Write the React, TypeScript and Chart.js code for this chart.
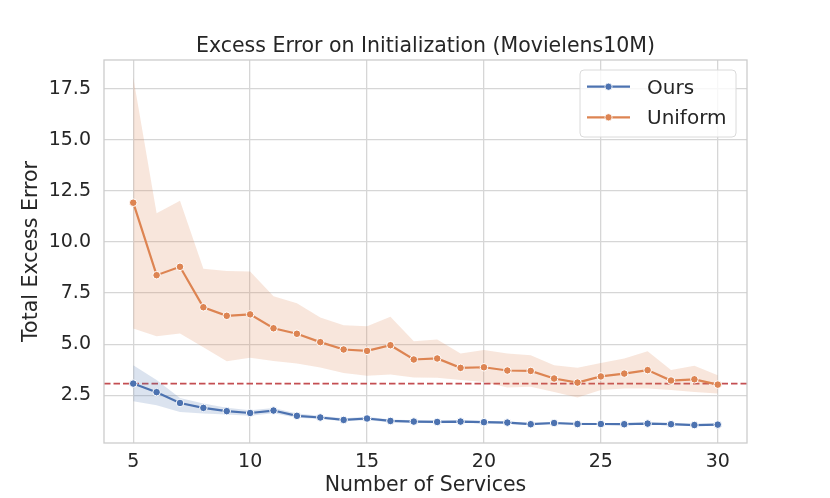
import React, { useEffect, useRef } from "react";
import { Chart, registerables } from "chart.js";

Chart.register(...registerables);

const FONT = "'DejaVu Sans', 'Liberation Sans', sans-serif";
const TEXT = "#262626";
const GRID = "#d6d6d6";

const services = [5, 6, 7, 8, 9, 10, 11, 12, 13, 14, 15, 16, 17, 18, 19, 20, 21, 22, 23, 24, 25, 26, 27, 28, 29, 30];

const oursMean = [3.07, 2.65, 2.12, 1.88, 1.72, 1.63, 1.75, 1.49, 1.41, 1.29, 1.36, 1.24, 1.21, 1.19, 1.21, 1.18, 1.16, 1.08, 1.14, 1.09, 1.09, 1.08, 1.11, 1.08, 1.04, 1.06];
const oursUpper = [3.97, 3.24, 2.37, 2.09, 1.89, 1.77, 1.88, 1.6, 1.5, 1.37, 1.44, 1.31, 1.28, 1.26, 1.28, 1.24, 1.22, 1.14, 1.2, 1.15, 1.14, 1.13, 1.16, 1.13, 1.09, 1.11];
const oursLower = [2.21, 2.01, 1.68, 1.6, 1.56, 1.5, 1.62, 1.4, 1.33, 1.22, 1.28, 1.18, 1.15, 1.13, 1.15, 1.12, 1.1, 1.03, 1.08, 1.04, 1.04, 1.03, 1.06, 1.03, 0.99, 1.01];

const uniformMean = [11.93, 8.38, 8.79, 6.81, 6.39, 6.46, 5.78, 5.51, 5.1, 4.74, 4.67, 4.95, 4.25, 4.3, 3.84, 3.87, 3.71, 3.69, 3.32, 3.12, 3.42, 3.56, 3.73, 3.22, 3.28, 3.02];
const uniformUpper = [18.07, 11.41, 12.02, 8.69, 8.59, 8.56, 7.35, 7.0, 6.31, 5.93, 5.88, 6.34, 5.15, 5.23, 4.54, 4.71, 4.54, 4.46, 3.97, 3.84, 4.08, 4.3, 4.66, 3.73, 3.94, 3.48];
const uniformLower = [5.77, 5.39, 5.52, 4.85, 4.17, 4.33, 4.18, 4.05, 3.86, 3.59, 3.45, 3.51, 3.37, 3.35, 3.24, 3.15, 2.88, 2.91, 2.66, 2.39, 2.75, 2.83, 2.83, 2.75, 2.66, 2.58];

const baselineValue = 3.07;

const xTicks = [5, 10, 15, 20, 25, 30];
const yTicks = [2.5, 5.0, 7.5, 10.0, 12.5, 15.0, 17.5];

const xRange = [3.75, 31.25];
const yRange = [0.16, 18.92];

const seriesNames = ["Ours", "Uniform"];
const seriesColors = ["#4c72b0", "#dd8452"];
const bandColors = ["rgba(76,114,176,0.2)", "rgba(221,132,82,0.2)"];
const refColor = "#c44e52";

const titleText = "Excess Error on Initialization (Movielens10M)";
const xLabel = "Number of Services";
const yLabel = "Total Excess Error";

const pts = (ys: number[]) => services.map((x, i) => ({ x, y: ys[i] }));

export default function App() {
  const ref = useRef<HTMLCanvasElement>(null);

  useEffect(() => {
    const canvas = ref.current;
    if (!canvas) return;

    const refLinePlugin = {
      id: "refLine",
      beforeDatasetsDraw(chart: any) {
        const { ctx, chartArea } = chart;
        const y = chart.scales.y.getPixelForValue(baselineValue);
        ctx.save();
        ctx.strokeStyle = refColor;
        ctx.lineWidth = 1.8;
        ctx.setLineDash([6.5, 3]);
        ctx.beginPath();
        ctx.moveTo(chartArea.left, y);
        ctx.lineTo(chartArea.right, y);
        ctx.stroke();
        ctx.restore();
      },
    };

    const framePlugin = {
      id: "frame",
      afterDatasetsDraw(chart: any) {
        const { ctx, chartArea } = chart;
        ctx.save();
        ctx.strokeStyle = "#cccccc";
        ctx.lineWidth = 1.3;
        ctx.strokeRect(chartArea.left, chartArea.top, chartArea.right - chartArea.left, chartArea.bottom - chartArea.top);
        ctx.restore();
      },
    };

    const textPlugin = {
      id: "titleLegend",
      afterDraw(chart: any) {
        const { ctx, chartArea } = chart;
        ctx.save();
        ctx.fillStyle = TEXT;
        ctx.font = `20.5px ${FONT}`;
        ctx.textAlign = "center";
        ctx.textBaseline = "alphabetic";
        ctx.fillText(titleText, (chartArea.left + chartArea.right) / 2, 52.3);

        const bx = 580, by = 70, bw = 156, bh = 67, r = 4;
        ctx.beginPath();
        ctx.moveTo(bx + r, by);
        ctx.lineTo(bx + bw - r, by);
        ctx.quadraticCurveTo(bx + bw, by, bx + bw, by + r);
        ctx.lineTo(bx + bw, by + bh - r);
        ctx.quadraticCurveTo(bx + bw, by + bh, bx + bw - r, by + bh);
        ctx.lineTo(bx + r, by + bh);
        ctx.quadraticCurveTo(bx, by + bh, bx, by + bh - r);
        ctx.lineTo(bx, by + r);
        ctx.quadraticCurveTo(bx, by, bx + r, by);
        ctx.closePath();
        ctx.fillStyle = "rgba(255,255,255,0.8)";
        ctx.fill();
        ctx.strokeStyle = "#dadada";
        ctx.lineWidth = 1;
        ctx.stroke();

        const rows = [86.7, 117.3];
        chart.data.datasets.slice(0, 2).forEach((ds: any, i: number) => {
          const y = rows[i];
          ctx.strokeStyle = ds.borderColor;
          ctx.lineWidth = 2.2;
          ctx.beginPath();
          ctx.moveTo(587, y);
          ctx.lineTo(630, y);
          ctx.stroke();
          ctx.beginPath();
          ctx.arc(608.5, y, 3.6, 0, Math.PI * 2);
          ctx.fillStyle = ds.borderColor;
          ctx.fill();
          ctx.strokeStyle = "#ffffff";
          ctx.lineWidth = 0.8;
          ctx.stroke();
          ctx.fillStyle = TEXT;
          ctx.font = `20px ${FONT}`;
          ctx.textAlign = "left";
          ctx.textBaseline = "alphabetic";
          ctx.fillText(ds.label, 647, y + 6.8);
        });
        ctx.restore();
      },
    };

    const lineDs = (label: string, data: number[], color: string) => ({
      label,
      data: pts(data),
      borderColor: color,
      backgroundColor: color,
      borderWidth: 2.2,
      pointRadius: 3.8,
      pointBorderWidth: 1,
      pointBackgroundColor: color,
      pointBorderColor: "#ffffff",
      fill: false,
      tension: 0,
    });

    const bandDs = (label: string, data: number[], color: string, fill: any) => ({
      label,
      data: pts(data),
      borderWidth: 0,
      borderColor: "rgba(0,0,0,0)",
      backgroundColor: color,
      pointRadius: 0,
      fill,
      tension: 0,
    });

    const chart = new Chart(canvas, {
      type: "line",
      data: {
        datasets: [
          lineDs(seriesNames[0], oursMean, seriesColors[0]),
          lineDs(seriesNames[1], uniformMean, seriesColors[1]),
          bandDs("ours-upper", oursUpper, bandColors[0], false),
          bandDs("ours-lower", oursLower, bandColors[0], "-1"),
          bandDs("uniform-upper", uniformUpper, bandColors[1], false),
          bandDs("uniform-lower", uniformLower, bandColors[1], "-1"),
        ] as any,
      },
      options: {
        responsive: false,
        animation: false,
        layout: { padding: { top: 60, right: 83, bottom: 0, left: 0 } },
        plugins: {
          legend: { display: false },
          title: { display: false },
          tooltip: { enabled: false },
        },
        scales: {
          x: {
            type: "linear",
            min: xRange[0],
            max: xRange[1],
            afterBuildTicks: (s: any) => {
              s.ticks = xTicks.map((v) => ({ value: v }));
            },
            afterFit: (s: any) => {
              s.height = 55;
            },
            grid: { color: GRID, lineWidth: 1.3, drawTicks: false },
            border: { display: false },
            ticks: {
              font: { family: FONT, size: 19 },
              color: TEXT,
              padding: 8,
              autoSkip: false,
              maxRotation: 0,
              callback: (v: any) => String(v),
            },
            title: {
              display: true,
              text: xLabel,
              font: { family: FONT, size: 20.5 },
              color: TEXT,
              padding: { top: 0, bottom: 0 },
            },
          },
          y: {
            type: "linear",
            min: yRange[0],
            max: yRange[1],
            afterBuildTicks: (s: any) => {
              s.ticks = yTicks.map((v) => ({ value: v }));
            },
            afterFit: (s: any) => {
              s.width = 104;
            },
            grid: { color: GRID, lineWidth: 1.3, drawTicks: false },
            border: { display: false },
            ticks: {
              font: { family: FONT, size: 19 },
              color: TEXT,
              padding: 13,
              autoSkip: false,
              callback: (v: any) => Number(v).toFixed(1),
            },
            title: {
              display: true,
              text: yLabel,
              font: { family: FONT, size: 20.5 },
              color: TEXT,
              padding: { top: 19.5, bottom: 0 },
            },
          },
        },
      } as any,
      plugins: [refLinePlugin, framePlugin, textPlugin],
    });

    return () => chart.destroy();
  }, []);

  return (
    <div style={{ position: "absolute", left: 0, top: 0, width: 830, height: 498, background: "#ffffff" }}>
      <canvas ref={ref} width={830} height={498} style={{ display: "block", width: 830, height: 498 }} />
    </div>
  );
}
